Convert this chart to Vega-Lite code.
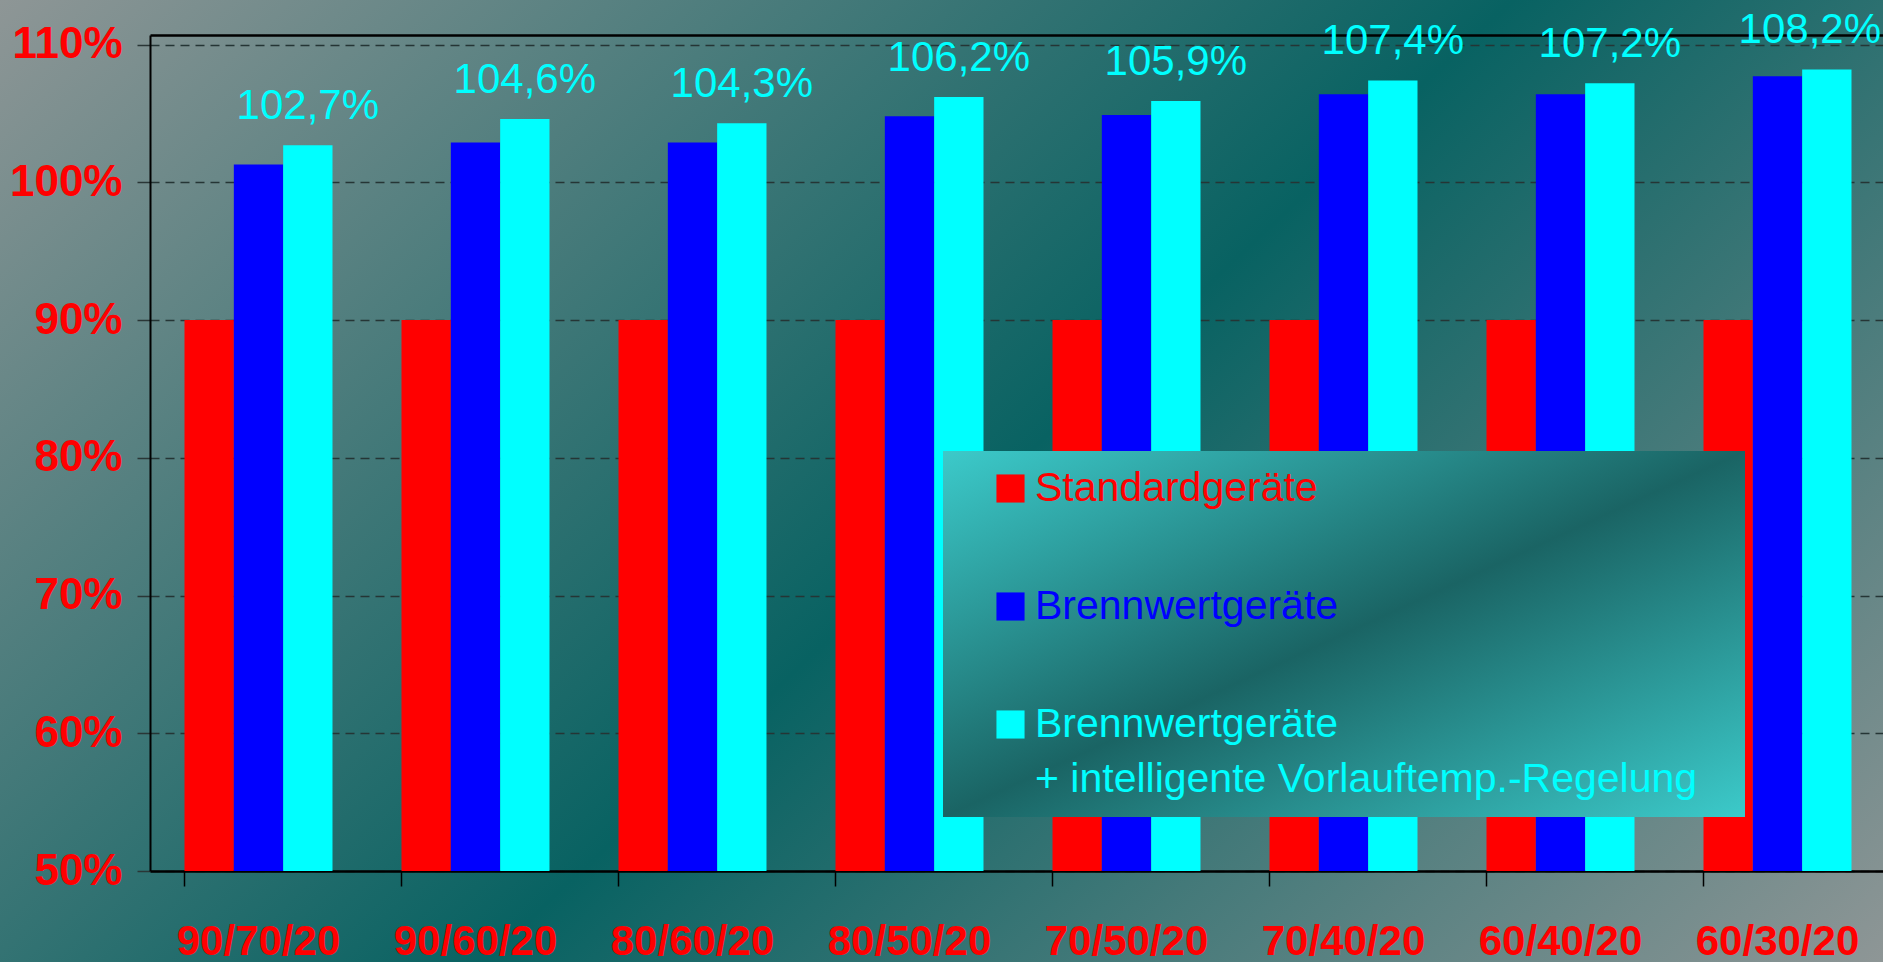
{
  "$schema": "https://vega.github.io/schema/vega-lite/v6.json",
  "width": 1883,
  "height": 962,
  "autosize": {"type": "none"},
  "padding": 0,
  "background": "#4f7777",
  "config": {
    "locale": {"number": {"decimal": ",", "thousands": ".", "grouping": [3], "currency": ["", " €"]}},
    "font": "Liberation Sans",
    "view": {"stroke": null, "fill": {"gradient": "linear", "x1": 0, "y1": 0, "x2": 1.19, "y2": 0.65, "stops": [{"offset": 0, "color": "#8e9696"}, {"offset": 0.52, "color": "#086262"}, {"offset": 1, "color": "#8e9696"}]}},
    "style": {"guide-label": {"lineHeight": 55}}
  },
  "data": {"values": [
    {"k": "90/70/20", "s": "Standardgeräte", "v": 0.9},
    {"k": "90/70/20", "s": "Brennwertgeräte", "v": 1.013},
    {"k": "90/70/20", "s": "Brennwertgeräte + intelligente Vorlauftemp.-Regelung", "v": 1.027},
    {"k": "90/60/20", "s": "Standardgeräte", "v": 0.9},
    {"k": "90/60/20", "s": "Brennwertgeräte", "v": 1.029},
    {"k": "90/60/20", "s": "Brennwertgeräte + intelligente Vorlauftemp.-Regelung", "v": 1.046},
    {"k": "80/60/20", "s": "Standardgeräte", "v": 0.9},
    {"k": "80/60/20", "s": "Brennwertgeräte", "v": 1.029},
    {"k": "80/60/20", "s": "Brennwertgeräte + intelligente Vorlauftemp.-Regelung", "v": 1.043},
    {"k": "80/50/20", "s": "Standardgeräte", "v": 0.9},
    {"k": "80/50/20", "s": "Brennwertgeräte", "v": 1.048},
    {"k": "80/50/20", "s": "Brennwertgeräte + intelligente Vorlauftemp.-Regelung", "v": 1.062},
    {"k": "70/50/20", "s": "Standardgeräte", "v": 0.9},
    {"k": "70/50/20", "s": "Brennwertgeräte", "v": 1.049},
    {"k": "70/50/20", "s": "Brennwertgeräte + intelligente Vorlauftemp.-Regelung", "v": 1.059},
    {"k": "70/40/20", "s": "Standardgeräte", "v": 0.9},
    {"k": "70/40/20", "s": "Brennwertgeräte", "v": 1.064},
    {"k": "70/40/20", "s": "Brennwertgeräte + intelligente Vorlauftemp.-Regelung", "v": 1.074},
    {"k": "60/40/20", "s": "Standardgeräte", "v": 0.9},
    {"k": "60/40/20", "s": "Brennwertgeräte", "v": 1.064},
    {"k": "60/40/20", "s": "Brennwertgeräte + intelligente Vorlauftemp.-Regelung", "v": 1.072},
    {"k": "60/30/20", "s": "Standardgeräte", "v": 0.9},
    {"k": "60/30/20", "s": "Brennwertgeräte", "v": 1.077},
    {"k": "60/30/20", "s": "Brennwertgeräte + intelligente Vorlauftemp.-Regelung", "v": 1.082}
  ]},
  "encoding": {
    "x": {
      "field": "k", "type": "nominal", "sort": null,
      "scale": {"range": [150, 1886], "paddingInner": 0.318, "paddingOuter": 0.159},
      "axis": {
        "title": null, "labelAngle": 0, "bandPosition": 0, "offset": -91,
        "domainColor": "#000000", "domainWidth": 2.5,
        "tickColor": "#000000", "tickSize": 15, "tickWidth": 1.5,
        "labelColor": "#ff0000", "labelFont": "Liberation Sans", "labelFontSize": 42, "labelFontWeight": "bold",
        "labelPadding": 35, "labelBaseline": "top", "grid": false
      }
    },
    "xOffset": {"field": "s", "type": "nominal", "sort": ["Standardgeräte", "Brennwertgeräte", "Brennwertgeräte + intelligente Vorlauftemp.-Regelung"]},
    "y": {
      "field": "v", "type": "quantitative",
      "scale": {"domain": [0.5, 1.107], "range": [871, 35], "nice": false, "zero": false},
      "axis": {
        "title": null, "offset": -150,
        "values": [0.5, 0.6, 0.7, 0.8, 0.9, 1.0, 1.1, 1.107],
        "labelExpr": "datum.value > 1.105 ? '' : datum.label",
        "format": ".0%",
        "domainColor": "#000000", "domainWidth": 2,
        "tickColor": "#2a3636", "tickSize": 13, "tickWidth": 1.5,
        "tickOpacity": {"condition": {"test": "datum.value > 1.105", "value": 0}, "value": 1},
        "labelColor": "#ff0000", "labelFont": "Liberation Sans", "labelFontSize": 44, "labelFontWeight": "bold",
        "labelPadding": 15,
        "grid": true,
        "gridColor": {"condition": {"test": "datum.value > 1.105", "value": "#000000"}, "value": "#253535"},
        "gridDash": {"condition": {"test": "datum.value > 1.105", "value": [1, 0]}, "value": [9, 6]},
        "gridWidth": {"condition": {"test": "datum.value > 1.105", "value": 2.5}, "value": 1.5}
      }
    }
  },
  "layer": [
    {
      "mark": {"type": "bar", "stroke": null},
      "encoding": {
        "y2": {"datum": 0.5},
        "color": {
          "field": "s", "type": "nominal",
          "sort": ["Standardgeräte", "Brennwertgeräte", "Brennwertgeräte + intelligente Vorlauftemp.-Regelung"],
          "scale": {"domain": ["Standardgeräte", "Brennwertgeräte", "Brennwertgeräte + intelligente Vorlauftemp.-Regelung"], "range": ["#ff0000", "#0000ff", "#00ffff"]},
          "legend": {
            "title": null, "orient": "none", "legendX": 943, "legendY": 451,
            "symbolType": "square", "symbolSize": 790, "symbolStrokeWidth": 0, "symbolOpacity": 1,
            "symbolOffset": 30, "padding": 17, "rowPadding": 76,
            "labelFont": "Liberation Sans", "labelFontSize": 41, "labelOffset": 4, "labelLimit": 1000,
            "labelBaseline": "middle",
            "labelColor": {"expr": "datum.value == 'Standardgeräte' ? '#ff0000' : (datum.value == 'Brennwertgeräte' ? '#0000ff' : '#00ffff')"},
            "fillColor": {"expr": "{gradient: 'linear', x1: 0, y1: 0, x2: 1, y2: 1, stops: [{offset: 0, color: '#3ccaca'}, {offset: 0.5, color: '#1a6464'}, {offset: 1, color: '#3ccaca'}]}"},
            "labelExpr": "datum.label == 'Brennwertgeräte + intelligente Vorlauftemp.-Regelung' ? ['Brennwertgeräte', '+ intelligente Vorlauftemp.-Regelung\u2800'] : datum.label"
          }
        }
      }
    },
    {
      "transform": [{"filter": "datum.s == 'Brennwertgeräte + intelligente Vorlauftemp.-Regelung' && datum.k != '60/30/20'"}],
      "mark": {"type": "text", "color": "#00ffff", "fontSize": 42, "font": "Liberation Sans", "align": "center", "baseline": "alphabetic", "dy": -26},
      "encoding": {"text": {"field": "v", "type": "quantitative", "format": ".1%"}}
    },
    {
      "transform": [{"filter": "datum.s == 'Brennwertgeräte + intelligente Vorlauftemp.-Regelung' && datum.k == '60/30/20'"}],
      "mark": {"type": "text", "color": "#00ffff", "fontSize": 42, "font": "Liberation Sans", "align": "center", "baseline": "alphabetic", "dy": -26, "dx": -17},
      "encoding": {"text": {"field": "v", "type": "quantitative", "format": ".1%"}}
    }
  ]
}
